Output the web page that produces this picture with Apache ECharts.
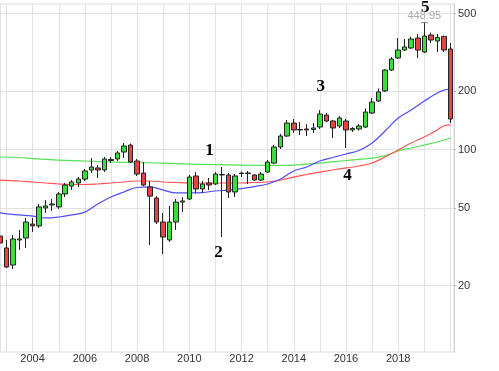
<!DOCTYPE html>
<html><head><meta charset="utf-8">
<script src="https://cdn.jsdelivr.net/npm/echarts@6/dist/echarts.min.js"></script>
<style>html,body{margin:0;padding:0;background:#fff}#c{width:499px;height:371px}</style>
</head><body><div id="c"></div>
<script>
// Quarterly candles (quarter start dates)
const quarters = [
 '2002-10-01',
 '2003-01-01','2003-04-01','2003-07-01','2003-10-01',
 '2004-01-01','2004-04-01','2004-07-01','2004-10-01',
 '2005-01-01','2005-04-01','2005-07-01','2005-10-01',
 '2006-01-01','2006-04-01','2006-07-01','2006-10-01',
 '2007-01-01','2007-04-01','2007-07-01','2007-10-01',
 '2008-01-01','2008-04-01','2008-07-01','2008-10-01',
 '2009-01-01','2009-04-01','2009-07-01','2009-10-01',
 '2010-01-01','2010-04-01','2010-07-01','2010-10-01',
 '2011-01-01','2011-04-01','2011-07-01','2011-10-01',
 '2012-01-01','2012-04-01','2012-07-01','2012-10-01',
 '2013-01-01','2013-04-01','2013-07-01','2013-10-01',
 '2014-01-01','2014-04-01','2014-07-01','2014-10-01',
 '2015-01-01','2015-04-01','2015-07-01','2015-10-01',
 '2016-01-01','2016-04-01','2016-07-01','2016-10-01',
 '2017-01-01','2017-04-01','2017-07-01','2017-10-01',
 '2018-01-01','2018-04-01','2018-07-01','2018-10-01',
 '2019-01-01','2019-04-01','2019-07-01','2019-10-01',
 '2020-01-01'
];
const openV = [35.9,
 31.2,25.5,34.3,35.1, 41.4,40.5,50.1,51.9, 50.7,59.1,64.9,67.3, 70.5,78.5,80.4,78.5,
 87.8,89.4,97.1,105.4, 87.3,75.7,64.2,56.3, 42.4,34.3,42.4,53.7, 55.7,73.1,62.7,67.3,
 66.5,74.0,74.0,60.5, 75.3,75.7,74.0,69.7, 76.6,85.2,103.0,117.3, 136.8,126.0,127.5,126.7,
 130.5,150.4,140.1,132.1, 140.1,126.0,127.5,130.5, 154.0,177.5,200.0,256.2,
 295.2,324.6,332.4,374.0, 317.0,387.6,361.0,380.7, 328.5];
const closeV = [33.1,
 24.9,34.7,34.7,42.4, 40.5,50.7,51.3,52.5, 59.1,65.7,68.1,70.5, 77.6,81.3,78.5,89.4,
 88.9,96.0,104.2,86.3, 74.8,65.7,57.6,42.4, 35.5,42.4,53.7,54.4, 72.2,62.7,66.5,65.7,
 74.8,74.4,60.5,73.1, 75.7,75.3,69.7,74.8, 86.3,103.0,117.3,136.8, 126.0,126.7,126.0,129.0,
 152.2,140.1,129.0,145.2, 126.0,128.2,132.1,155.8, 175.4,197.6,256.2,291.8,
 324.6,336.4,369.7,324.6, 383.0,365.3,376.3,324.6, 143.5];
const lowV = [31.9,
 24.6,24.3,30.5,31.2, 37.7,39.5,47.2,48.3, 49.5,57.0,61.9,64.2, 68.9,75.7,71.4,76.6,
 85.2,87.3,90.4,85.2, 73.1,64.9,32.3,41.4, 29.0,33.5,38.6,47.7, 55.0,59.8,59.8,61.9,
 65.7,35.5,56.3,57.0, 72.2,66.5,68.9,68.9, 75.7,84.2,100.6,116.0, 121.6,118.7,117.3,121.6,
 127.5,138.5,114.6,129.0, 101.8,123.0,125.2,129.0, 152.2,175.4,197.6,253.2,
 291.8,320.7,328.5,295.2, 313.2,352.6,317.0,317.0, 136.8];
const highV = [37.2,
 34.3,36.4,38.6,44.5, 44.5,52.5,55.0,55.7, 60.5,67.3,69.7,72.2, 79.4,90.4,83.2,91.5,
 91.5,98.2,108.0,107.4, 89.4,86.3,68.9,57.6, 47.2,51.3,55.7,57.0, 74.0,76.6,68.9,71.4,
 76.6,81.3,75.7,74.8, 77.1,77.6,74.8,76.6, 88.3,105.4,120.2,141.8, 143.5,138.5,135.2,136.8,
 159.6,154.0,141.8,148.6, 143.5,130.5,135.2,162.4, 184.0,205.8,259.2,298.8,
 374.0,369.7,380.7,392.2, 448.95,399.2,392.2,385.3, 352.6];

// Moving averages
const blueDates = ['2002-10-01','2003-01-01','2003-07-01','2004-01-01','2004-07-01','2005-01-01','2005-07-01','2006-01-01','2006-07-01','2007-01-01','2007-07-01','2008-01-01','2008-07-01','2009-01-01','2009-07-01','2010-01-01','2010-07-01','2011-01-01','2011-07-01','2012-01-01','2012-07-01','2013-01-01','2013-07-01','2014-01-01','2014-07-01','2015-01-01','2015-07-01','2016-01-01','2016-07-01','2017-01-01','2017-07-01','2018-01-01','2018-07-01','2019-01-01','2019-07-01','2019-10-01','2020-01-01'];
const blueMA = [47.2,46.7,46.1,45.5,44.5,45.0,46.1,47.7,52.5,57.0,60.5,63.8,64.2,61.9,59.8,59.8,60.1,61.2,61.9,63.0,64.5,66.5,70.5,77.6,81.3,87.3,91.0,94.8,98.8,108.0,124.5,145.2,159.6,177.5,195.1,202.0,204.6];
const redDates = ['2002-10-01','2003-07-01','2004-01-01','2004-07-01','2005-01-01','2005-07-01','2006-01-01','2006-07-01','2007-01-01','2007-07-01','2008-01-01','2008-07-01','2009-01-01','2009-07-01','2010-01-01','2011-01-01','2012-01-01','2012-07-01','2013-01-01','2013-07-01','2014-01-01','2014-07-01','2015-01-01','2015-07-01','2016-01-01','2016-07-01','2017-01-01','2017-07-01','2018-01-01','2018-07-01','2019-01-01','2019-07-01','2019-10-01','2020-01-01'];
const redMA = [69.7,68.9,68.1,67.3,66.5,66.1,66.1,66.5,67.3,68.1,68.9,68.9,68.1,67.7,67.3,67.3,67.3,67.7,68.1,69.7,72.2,74.4,76.6,78.5,80.4,82.3,85.2,91.5,99.4,108.0,116.0,126.0,132.5,134.0];
const greenDates = ['2002-10-01','2003-07-01','2004-01-01','2005-01-01','2006-01-01','2007-01-01','2008-01-01','2009-01-01','2010-01-01','2011-01-01','2012-01-01','2013-01-01','2014-01-01','2015-01-01','2016-01-01','2017-01-01','2017-07-01','2018-01-01','2018-07-01','2019-01-01','2019-07-01','2020-01-01'];
const greenMA = [91.5,91.0,89.9,88.3,87.3,86.3,85.7,85.2,84.2,83.7,83.2,82.8,83.2,85.2,87.8,90.4,93.1,98.2,101.8,105.4,109.3,114.6];

// Axis ticks
const yTicks = [20, 50, 100, 200, 500];
const labelYears = [2004, 2006, 2008, 2010, 2012, 2014, 2016, 2018];
const YEAR_MS = 365.25 * 24 * 3600 * 1000;

// Annotations
const noteText = ['1','2','3','4','5'];
const noteDate = ['2010-10-10','2011-02-13','2015-01-12','2016-01-23','2019-01-15'];
const noteValue = [98.2, 29.7, 209.5, 73.1, 536.6];
const maxDate = '2019-01-01';
const maxValue = 448.95;

const candleData = quarters.map((d, i) => [d, openV[i], closeV[i], lowV[i], highV[i]]);
const zip = (a, b) => a.map((d, i) => [d, b[i]]);

const chart = echarts.init(document.getElementById('c'), null, {renderer: 'canvas'});
const lab = {fontFamily: 'Liberation Sans, Arial, sans-serif', fontSize: 11, color: '#333'};
chart.setOption({
  animation: false,
  backgroundColor: '#fff',
  grid: {left: -1, right: 45, top: 4, bottom: 19, show: true, borderColor: '#dcdcdc', borderWidth: 1},
  xAxis: {
    type: 'time', min: '2002-10-02', max: '2020-02-20',
    minInterval: YEAR_MS, maxInterval: YEAR_MS,
    axisLine: {show: false},
    axisTick: {show: false},
    axisLabel: Object.assign({margin: 1, hideOverlap: false, showMinLabel: false, showMaxLabel: false,
      formatter: v => {
        const d = new Date(v);
        const y = d.getFullYear();
        return (d.getMonth() === 0 && d.getDate() === 1 && labelYears.indexOf(y) >= 0) ? String(y) : '';
      }}, lab),
    splitLine: {show: true, lineStyle: {color: '#e2e2e2', width: 1}}
  },
  yAxis: {
    type: 'log', logBase: 10, position: 'right', min: 9.11, max: 559.4,
    axisLine: {show: true, lineStyle: {color: '#d0d0d0'}},
    axisTick: {show: true, length: 2, customValues: yTicks, lineStyle: {color: '#bbb'}},
    axisLabel: Object.assign({customValues: yTicks, margin: 4}, lab),
    splitLine: {show: true, lineStyle: {color: '#e2e2e2', width: 1}}
  },
  series: [
    {type: 'line', data: zip(greenDates, greenMA), smooth: 0.4, showSymbol: false,
     lineStyle: {color: '#55e055', width: 1.2}, z: 1, silent: true},
    {type: 'line', data: zip(redDates, redMA), smooth: 0.4, showSymbol: false,
     lineStyle: {color: '#ff5555', width: 1.2}, z: 1, silent: true},
    {type: 'line', data: zip(blueDates, blueMA), smooth: 0.4, showSymbol: false,
     lineStyle: {color: '#4d4dff', width: 1.2}, z: 1, silent: true,
     markPoint: {
       silent: true, animation: false,
       data: noteText.map((t, i) => ({
         coord: [noteDate[i], noteValue[i]], symbol: 'circle', symbolSize: 1,
         itemStyle: {color: 'rgba(0,0,0,0)'},
         label: {show: true, position: 'inside', formatter: t, color: '#000',
           fontFamily: 'Liberation Serif, Times New Roman, serif', fontWeight: 'bold', fontSize: 17}
       })).concat([{
         coord: [maxDate, maxValue], symbol: 'rect', symbolSize: [7, 1],
         itemStyle: {color: '#888'},
         label: {show: true, position: 'top', distance: 1, formatter: String(maxValue),
           color: '#aaa', fontFamily: 'Liberation Sans, Arial, sans-serif', fontSize: 11}
       }])
     }},
    {type: 'candlestick', data: candleData, encode: {x: 0, y: [1, 2, 3, 4]},
     barWidth: 5, z: 3,
     itemStyle: {color: '#3ddc3d', color0: '#e84343', borderColor: '#222', borderColor0: '#222', borderWidth: 1}}
  ]
});
</script></body></html>
